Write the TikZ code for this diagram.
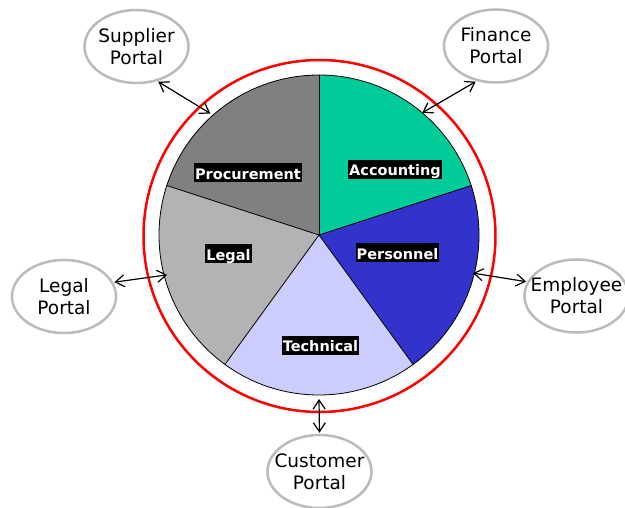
\documentclass[tikz,border=0pt]{standalone}
\usepackage{fontspec}
\setmainfont{DejaVu Sans}
\usetikzlibrary{shapes.geometric,arrows.meta}
\definecolor{acc}{HTML}{00CC99}
\definecolor{pers}{HTML}{3333CC}
\definecolor{tech}{HTML}{CCCCFF}
\definecolor{legalc}{HTML}{B3B3B3}
\definecolor{proc}{HTML}{808080}
\definecolor{portalgray}{HTML}{BBBBBB}
\tikzset{
  slice/.style={draw=black, line width=0.8pt},
  lbl/.style={fill=black, text=white, font=\fontsize{14.5}{16}\selectfont\bfseries,
    inner xsep=1pt, inner ysep=1pt, text height=15pt, text depth=2pt},
  portal/.style={ellipse, draw=portalgray, line width=2.5pt, fill=white,
    minimum width=104pt, minimum height=73pt, inner sep=0pt},
  ptext/.style={align=center, font=\fontsize{18.5}{22}\selectfont, inner sep=0pt},
  link/.style={{Straight Barb[length=9pt,width=12pt]}-{Straight Barb[length=9pt,width=12pt]}, line width=1.2pt, black}
}
\begin{document}
\begin{tikzpicture}[x=1pt,y=-1pt]
\useasboundingbox (0,0) rectangle (625,508);
\fill[white] (0,0) rectangle (625,508);
\coordinate (C) at (319,235);
% red ring
\draw[red, line width=2.5pt] (319.5,236) circle[radius=176pt];
% slices
\fill[acc] (C) -- ++(90:160pt) arc[start angle=90, end angle=18, radius=160pt] -- cycle;
\fill[pers] (C) -- ++(18:160pt) arc[start angle=18, end angle=-54, radius=160pt] -- cycle;
\fill[tech] (C) -- ++(-54:160pt) arc[start angle=-54, end angle=-126, radius=160pt] -- cycle;
\fill[legalc] (C) -- ++(-126:160pt) arc[start angle=-126, end angle=-198, radius=160pt] -- cycle;
\fill[proc] (C) -- ++(162:160pt) arc[start angle=162, end angle=90, radius=160pt] -- cycle;
\draw[slice] (C) circle[radius=160pt];
\foreach \a in {90,18,-54,-126,162} \draw[slice] (C) -- ++(\a:160pt);
% labels
\node[lbl] (lacc) at (395,169.5) {Accounting};
\node[lbl] (lproc) at (248,173) {Procurement};
\node[lbl] (llegal) at (228.5,254) {Legal};
\node[lbl] (lpers) at (397.5,253) {Personnel};
\node[lbl] (ltech) at (320.5,345.5) {Technical};
% portals
\node[portal, label={[ptext]center:Supplier\\Portal}] (sup) at (136.5,46.5) {};
\node[portal, label={[ptext]center:Finance\\Portal}] (fin) at (496,46) {};
\node[portal, label={[ptext]center:Legal\\Portal}] (leg) at (64,296.5) {};
\node[portal, label={[ptext]center:Employee\\Portal}] (emp) at (576.5,296) {};
\node[portal, label={[ptext]center:Customer\\Portal}] (cus) at (319.5,471.5) {};
% pie-side ends
\path (C) ++(131.8:163pt) coordinate (pSup);
\path (C) ++(49.8:160pt) coordinate (pFin);
\path (C) ++(194.7:157pt) coordinate (pLeg);
\path (C) ++(-13.9:158.6pt) coordinate (pEmp);
\path (C) ++(-90:164pt) coordinate (pCus);
% connectors
\draw[link, shorten <=1pt] (sup.-59) -- (pSup);
\draw[link, shorten <=1pt] (fin.-119) -- (pFin);
\draw[link, shorten <=1pt] (leg.16) -- (pLeg);
\draw[link, shorten <=1pt] (emp.164) -- (pEmp);
\draw[link, shorten <=1pt] (cus.90) -- (pCus);
\end{tikzpicture}
\end{document}
